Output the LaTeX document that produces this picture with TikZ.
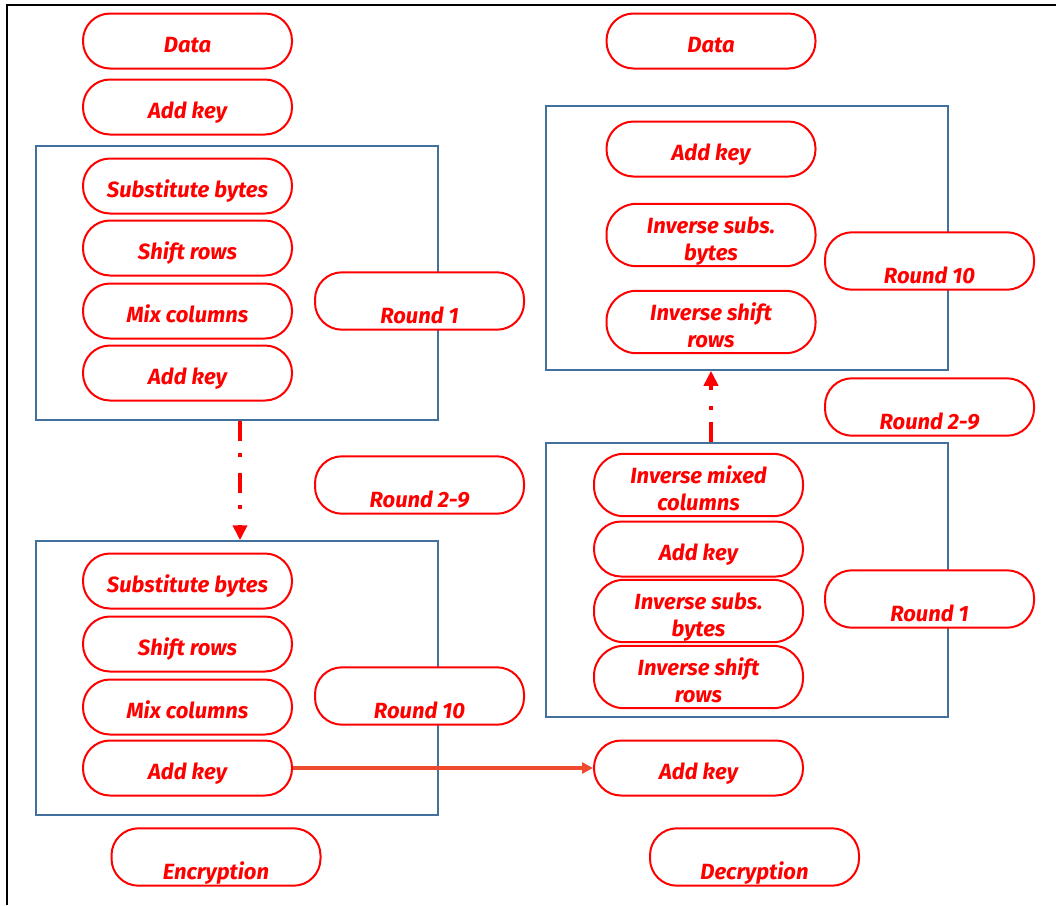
\documentclass[tikz,border=0pt]{standalone}
\usepackage{fontspec}
\setmainfont{Fira Sans}
\usetikzlibrary{arrows.meta}
\definecolor{boxblue}{HTML}{41719C}
\definecolor{arrowred}{HTML}{F04A2E}
\newcommand\tstr{\rule{0pt}{29.4pt}}
\newcommand\bstr{\rule[-6pt]{0pt}{6pt}}
\tikzset{
  pill/.style={draw=red, line width=2pt, fill=white, rounded corners=27pt,
    minimum width=209pt, minimum height=55pt, inner sep=0pt, text=red, align=center,
    font=\fontsize{22}{27}\selectfont\bfseries\itshape},
  tallpill/.style={pill, minimum height=62pt, rounded corners=30pt},
  lowpill/.style={pill, font=\fontsize{22}{22}\selectfont\bfseries\itshape},
  roundbox/.style={draw=boxblue, line width=1.5pt, minimum width=402pt, inner sep=0pt},
  dasharrow/.style={draw=red, line width=4pt, dash pattern=on 20pt off 12pt on 4pt off 16pt,
    -{Triangle[width=14pt,length=15pt]}},
  solidarrow/.style={draw=arrowred, line width=3.5pt, -{Triangle[width=11pt,length=11pt]}}
}
\begin{document}
\begin{tikzpicture}[x=1pt,y=-1pt]
\useasboundingbox (0,0) rectangle (1056,905);
\draw[line width=1.5pt, black] (7,905) -- (7,5) -- (1056,5);
% boxes
\node[roundbox, minimum height=274pt] (box1) at (237,283) {};
\node[roundbox, minimum height=274pt] (box2) at (237,678) {};
\node[roundbox, minimum height=264pt] (box3) at (747,238) {};
\node[roundbox, minimum height=274pt] (box4) at (747,580) {};
% left column
\node[pill] (ldata) at (187.5,41) {\tstr\bstr Data};
\node[pill] (lak0) at (187.5,107) {\tstr\bstr Add key};
\node[pill] (lsb1) at (187.5,186) {\tstr\bstr Substitute bytes};
\node[pill] (lsr1) at (187.5,248) {\tstr\bstr Shift rows};
\node[pill] (lmc1) at (187.5,311) {\tstr\bstr Mix columns};
\node[pill] (lak1) at (187.5,373) {\tstr\bstr Add key};
\node[lowpill] (lr1) at (419.5,301) {\tstr\\\bstr Round 1};
\node[lowpill] (lr29) at (419.5,485) {\tstr\\\bstr Round 2-9};
\node[pill] (lsb2) at (187.5,581) {\tstr\bstr Substitute bytes};
\node[pill] (lsr2) at (187.5,644) {\tstr\bstr Shift rows};
\node[pill] (lmc2) at (187.5,707) {\tstr\bstr Mix columns};
\node[pill] (lak2) at (187.5,768) {\tstr\bstr Add key};
\node[lowpill] (lr10) at (419.5,696) {\tstr\\\bstr Round 10};
\node[lowpill] (enc) at (216,857) {\tstr\\\bstr Encryption};
% right column
\node[pill] (rdata) at (711,41) {\tstr\bstr Data};
\node[pill] (rak3) at (711,149) {\tstr\bstr Add key};
\node[tallpill] (ris3) at (711,235) {\tstr Inverse subs.\\\bstr bytes};
\node[tallpill] (rish3) at (711,322) {\tstr Inverse shift\\\bstr rows};
\node[lowpill] (rr10) at (929.5,261) {\tstr\\\bstr Round 10};
\node[lowpill] (rr29) at (929.5,407) {\tstr\\\bstr Round 2-9};
\node[tallpill] (rimc) at (698.5,485) {\tstr Inverse mixed\\\bstr columns};
\node[pill] (rak4) at (698.5,549) {\tstr\bstr Add key};
\node[tallpill] (ris4) at (698.5,611) {\tstr Inverse subs.\\\bstr bytes};
\node[tallpill] (rish4) at (698.5,677) {\tstr Inverse shift\\\bstr rows};
\node[lowpill] (rr1) at (929.5,599) {\tstr\\\bstr Round 1};
\node[pill] (rak5) at (698.5,768) {\tstr\bstr Add key};
\node[lowpill] (dec) at (754.5,857) {\tstr\\\bstr Decryption};
% arrows
\draw[dasharrow] ([xshift=3pt]box1.south) -- ([xshift=3pt]box2.north);
\draw[dasharrow] (rak3.center |- box4.north) -- (rak3.center |- box3.south);
\draw[solidarrow] (lak2.east) -- (rak5.west);
\end{tikzpicture}
\end{document}
